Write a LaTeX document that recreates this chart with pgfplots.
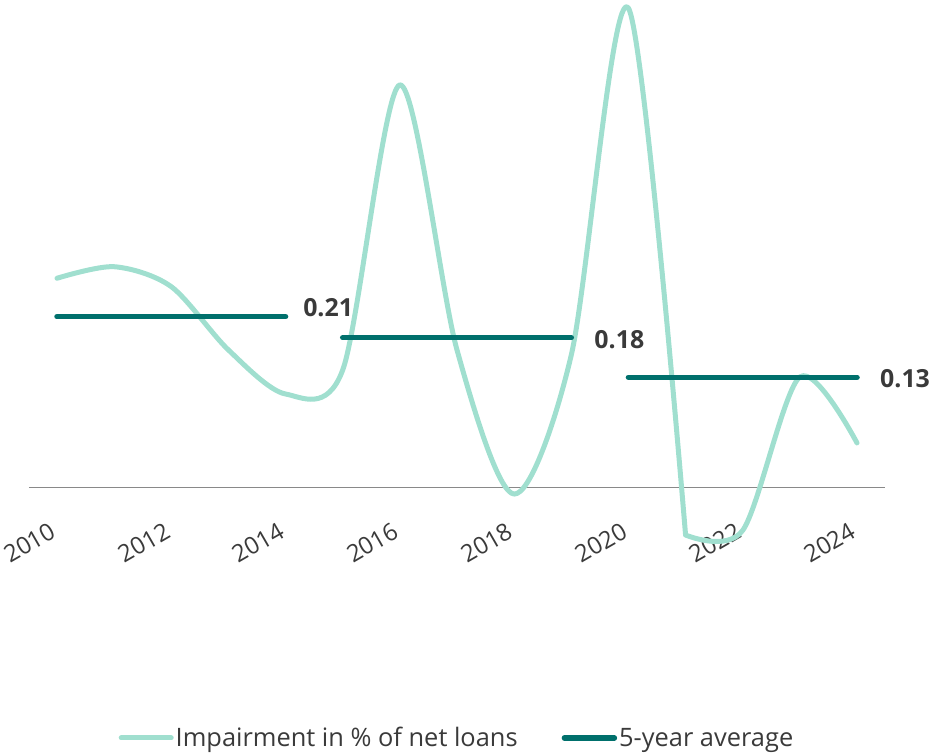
\documentclass[border=0pt]{standalone}
\usepackage{fontspec}
\setmainfont{Open Sans}
\usepackage{pgfplots}
\pgfplotsset{compat=1.18}
\definecolor{mint}{HTML}{A0DFCF}
\definecolor{tealdark}{HTML}{00706C}
\definecolor{txt}{HTML}{3A3A3A}
\definecolor{axgray}{HTML}{898989}
\begin{document}
\begin{tikzpicture}
\begin{axis}[
  at={(29bp,219bp)}, anchor=south west,
  scale only axis, width=856bp, height=535bp,
  xmin=2009.51, xmax=2024.49, ymin=-0.0576, ymax=0.5909,
  clip=false,
  axis line style={draw=none},
  xtick={2010,2012,...,2024},
  xticklabels={2010,2012,2014,2016,2018,2020,2022,2024},
  major tick length=0pt,
  ytick={0}, yticklabels={},
  ymajorgrids, major grid style={draw=axgray, line width=1.6bp},
  xticklabel style={rotate=30, anchor=east, inner sep=0pt, xshift=0bp, yshift=7bp, font=\fontsize{24}{24}\selectfont, text=txt},
  legend columns=2,
  legend style={at={(0.5,-0.3794)}, anchor=center, draw=none, fill=none,
    font=\fontsize{25.5}{25.5}\selectfont, text=txt,
    /tikz/every even column/.append style={column sep=42bp}},
  legend image code/.code={\draw[#1, line cap=round] (0bp,0bp) -- (50bp,0bp);},
]
\addplot[mint, line width=5bp, smooth, line cap=round, line join=round] coordinates {
(2010,0.2536) (2011,0.2676) (2012,0.2434) (2013,0.1667) (2014,0.1133)
(2015,0.1424) (2016,0.488) (2017,0.1667) (2018,-0.008) (2019,0.1606)
(2020,0.581) (2021,-0.0576)};
\addlegendentry{Impairment in \% of net loans}
\addplot[mint, line width=5bp, smooth, line cap=round, line join=round, forget plot] coordinates {
(2021,-0.0576) (2022,-0.0520) (2023,0.134) (2024,0.054)};
\addplot[tealdark, line width=5.5bp, line cap=round] coordinates {(2010,0.207) (2014,0.207)};
\addlegendentry{5-year average}
\addplot[tealdark, line width=5.5bp, line cap=round, forget plot] coordinates {(2015,0.1816) (2019,0.1816)};
\addplot[tealdark, line width=5.5bp, line cap=round, forget plot] coordinates {(2020,0.1336) (2024,0.1336)};
\node[anchor=west, inner sep=0pt, xshift=17.5bp, yshift=8.8bp, text=txt, font=\fontsize{25}{25}\selectfont\bfseries] at (axis cs:2014,0.207) {0.21};
\node[anchor=west, inner sep=0pt, xshift=23bp, yshift=-1.8bp, text=txt, font=\fontsize{25}{25}\selectfont\bfseries] at (axis cs:2019,0.1816) {0.18};
\node[anchor=west, inner sep=0pt, xshift=23bp, yshift=-1.4bp, text=txt, font=\fontsize{25}{25}\selectfont\bfseries] at (axis cs:2024,0.1336) {0.13};
\end{axis}
\pgfresetboundingbox
\path (0,0) rectangle (934bp,754bp);
\end{tikzpicture}
\end{document}
